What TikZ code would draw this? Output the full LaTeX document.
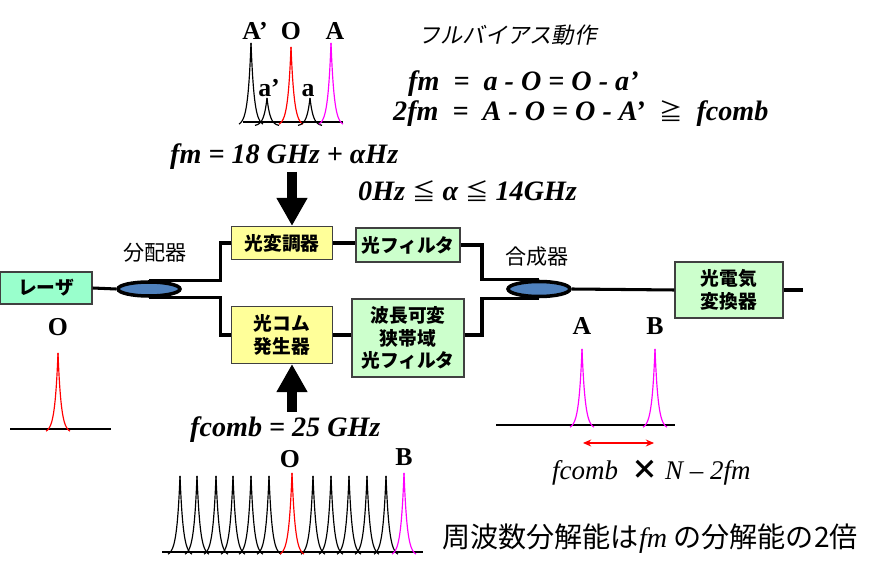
\documentclass[tikz,border=0pt]{standalone}
\usepackage{fontspec}
\setmainfont{Liberation Serif}
\newfontfamily\jp{Noto Sans CJK JP}
\newfontfamily\jpsl[FakeSlant=0.2]{Noto Sans CJK JP}
\usetikzlibrary{positioning,calc,arrows.meta,shapes.geometric}

\definecolor{lasergreen}{RGB}{153,255,204}
\definecolor{palegreen}{RGB}{204,255,204}
\definecolor{paleyellow}{RGB}{255,255,153}
\definecolor{couplerblue}{RGB}{79,129,189}
\definecolor{peakmagenta}{RGB}{255,0,255}

\begin{document}
\begin{tikzpicture}[x=0.03cm,y=-0.03cm]
  \def\px{0.03cm}       % one pixel of the layout
  \def\eqsize{\fontsize{24}{27}\selectfont}

  \tikzstyle{unit}=[draw=black!75,line width=1pt,align=center,inner sep=0pt,
    font=\jp\bfseries\fontsize{16}{19.5}\selectfont]
  \tikzstyle{coupler}=[ellipse,draw,line width=3pt,fill=couplerblue,inner sep=0pt]
  \tikzstyle{wire}=[line width=2.6pt]
  \tikzstyle{feed}=[line width=8.5pt,-{Triangle[width=25pt,length=24pt]}]
  \tikzstyle{axis}=[line width=1pt]
  \tikzstyle{eq}=[anchor=base west,inner sep=0pt,font=\bfseries\itshape\eqsize]
  \tikzstyle{spk}=[anchor=base,inner sep=0pt,font=\bfseries\fontsize{22}{24}\selectfont]
  \tikzstyle{jplabel}=[anchor=base,inner sep=0pt,font=\jp\fontsize{18}{21}\selectfont]
  \def\rel#1{{\jp\mdseries\upshape\fontsize{20}{24}\selectfont #1}}
  \def\peak#1#2#3#4{% x, baseline, height, colour
    \draw[#4,line width=1pt] plot[domain=-12:0,samples=30] ({#1+\x},{#2+4-(#3+4)*exp(\x/3.2)});
    \draw[#4,line width=1pt] plot[domain=0:12,samples=30] ({#1+\x},{#2+4-(#3+4)*exp(-\x/3.2)})}

  \useasboundingbox (0,0) rectangle (884,571);

  % OPTICAL SETUP
  \node[unit,fill=lasergreen,minimum width=92*\px,minimum height=32*\px] (laser) at (46,288) {レーザ};
  \node[coupler,minimum width=62*\px,minimum height=14*\px] (split) at (149,289) {};
  \node[unit,fill=paleyellow,minimum width=101*\px,minimum height=33*\px] (mod) at (282,243) {光変調器};
  \node[unit,fill=palegreen,minimum width=104*\px,minimum height=34*\px] (filt) at (408,245) {光フィルタ};
  \node[unit,fill=paleyellow,minimum width=101*\px,minimum height=57*\px] (comb) at (282,335) {光コム\\発生器};
  \node[unit,fill=palegreen,minimum width=112*\px,minimum height=78*\px] (tune) at (408,338) {波長可変\\狭帯域\\光フィルタ};
  \node[coupler,minimum width=62*\px,minimum height=15*\px] (merge) at (539,289) {};
  \node[unit,fill=palegreen,minimum width=108*\px,minimum height=56*\px] (oe) at (729,290) {光電気\\変換器};
  \coordinate (out) at (803,290);

  \node[jplabel] (splitlbl) at (155,261) {分配器};
  \node[jplabel] (mergelbl) at (537,265) {合成器};

  \draw[wire] (laser.east) -- (split.west);
  \draw[wire] (split.north) -| ($(mod.west)+(-10,0)$) -- (mod.west);
  \draw[wire] (split.south) -| ($(comb.west)+(-10,0)$) -- (comb.west);
  \draw[wire] (mod.east) -- (mod.east -| filt.west);
  \draw[wire] (comb.east) -- (comb.east -| tune.west);
  \draw[wire] (filt.east) -| ($(merge.north)+(-57,0)$) -- (merge.north);
  \draw[wire] (comb.east -| tune.east) -| ($(merge.south)+(-57,0)$) -- (merge.south);
  \draw[wire] (merge.east) -- (oe.west);
  \draw[wire] (oe.east) -- (out);

  % DRIVE ARROWS
  \coordinate (fmsrc) at (292,172);
  \coordinate (combsrc) at (292,412);
  \draw[feed] (fmsrc) -- (fmsrc |- mod.north);
  \draw[feed] (combsrc) -- (combsrc |- comb.south);

  % TEXTS
  \node[eq] (fmdef) at (170,164) {fm = 18 GHz + αHz};
  \node[eq] (alpha) at (358,201) {0Hz \rel{≦} α \rel{≦} 14GHz};
  \node[eq] (fcombdef) at (190,437) {fcomb = 25 GHz};
  \node[anchor=base west,inner sep=0pt,font=\jpsl\fontsize{19}{22}\selectfont] (mode) at (418,44) {フルバイアス動作};
  \node[eq] (eqa) at (408,91) {fm\ \ =\ \ a - O = O - a’};
  \node[eq] (eqb) at (393,121) {2fm\ \ =\ \ A - O = O - A’\ \ \rel{≧}\ \ fcomb};
  \node[anchor=base west,inner sep=0pt,font=\itshape\fontsize{23}{26}\selectfont] (span) at (552,480)
    {fcomb\ \ {\jp\bfseries\upshape ×} N – 2fm};
  \node[anchor=base west,inner sep=0pt,font=\jp\fontsize{24}{27}\selectfont] (note) at (442,548)
    {周波数分解能は{\rmfamily\itshape fm} の分解能の2倍};

  % SPECTRUM AFTER MODULATOR
  \draw[axis] (243,122) -- (343,122);
  \peak{251}{122}{79}{black};
  \peak{267}{122}{24}{black};
  \peak{291}{122}{75}{red};
  \peak{310}{122}{24}{black};
  \peak{331}{122}{79}{peakmagenta};
  \node[spk] (lAp) at (255,40) {A’};
  \node[spk] (lO) at (291,40) {O};
  \node[spk] (lA) at (335,40) {A};
  \node[spk] (lap) at (269,97) {a’};
  \node[spk] (la) at (308,97) {a};

  % LASER SPECTRUM
  \draw[axis] (10,429) -- (111,429);
  \peak{58}{429}{76}{red};
  \node[spk] (laserO) at (58,336) {O};

  % COMB SPECTRUM
  \draw[axis] (162,552) -- (423,552);
  \foreach \c in {180,197,216,233,251,269,313,331,349,367,386}
    {\peak{\c}{552}{76}{black};}
  \peak{292}{552}{79}{red};
  \peak{404}{552}{79}{peakmagenta};
  \node[spk] (combO) at (290,468) {O};
  \node[spk] (combB) at (404,466) {B};

  % OUTPUT SPECTRUM
  \draw[axis] (496,425) -- (675,425);
  \peak{582}{425}{76}{peakmagenta};
  \peak{655}{425}{76}{peakmagenta};
  \node[spk] (outA) at (582,335) {A};
  \node[spk] (outB) at (655,335) {B};
  \coordinate (spanL) at (583,443);
  \coordinate (spanR) at (654,443);
  \draw[red,line width=1pt,{Stealth[length=7pt,width=6pt]}-{Stealth[length=7pt,width=6pt]}] (spanL) -- (spanR);
\end{tikzpicture}
\end{document}
